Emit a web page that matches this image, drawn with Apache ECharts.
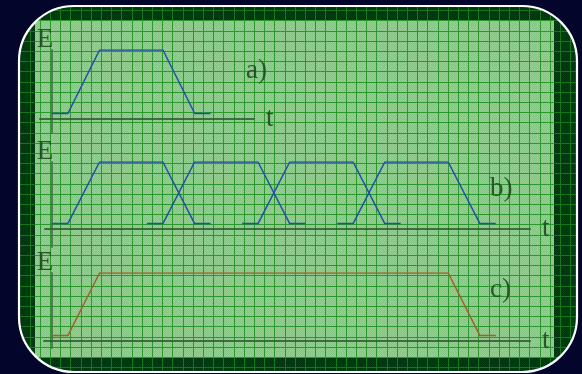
<!DOCTYPE html>
<html>
<head>
<meta charset="utf-8">
<script src="https://cdn.jsdelivr.net/npm/echarts@6/dist/echarts.min.js"></script>
<style>
  html, body { margin: 0; padding: 0; background: #03062a; }
  #chart { width: 582px; height: 374px; }
</style>
</head>
<body>
<div id="chart"></div>
<script>
// Pulse shapes: energy E against time t (t in units of half a rise time,
// E normalised to the excited level).
const pulseLevels = [0.08, 0.08, 1, 1, 0.08, 0.08];

// a) a single pulse
const timesA = [0, 1, 3, 7, 9, 10];

// b) a train of overlapping pulses
const timesB1 = [0, 1, 3, 7, 9, 10];
const timesB2 = [6, 7, 9, 13, 15, 16];
const timesB3 = [12, 13, 15, 19, 21, 22];
const timesB4 = [18, 19, 21, 25, 27, 28];

// c) the resulting long pulse
const timesC = [0, 1, 3, 25, 27, 28];

const panelLabels = ['a)', 'b)', 'c)'];
const axisNameE = 'E';
const axisNameT = 't';

function pairs(ts, es) { return ts.map((t, i) => [t, es[i]]); }

// Graph-paper tile: dithered fill plus grid lines, 5 cells per 51 px.
function paperTile(base, alt, line) {
  const c = document.createElement('canvas');
  c.width = 51; c.height = 51;
  const g = c.getContext('2d');
  const img = g.createImageData(51, 51);
  for (let y = 0; y < 51; y++) {
    for (let x = 0; x < 51; x++) {
      const col = ((x + y) % 2) ? base : alt;
      const k = (y * 51 + x) * 4;
      img.data[k] = col[0]; img.data[k + 1] = col[1]; img.data[k + 2] = col[2]; img.data[k + 3] = 255;
    }
  }
  g.putImageData(img, 0, 0);
  g.fillStyle = 'rgb(' + line.join(',') + ')';
  [9, 19, 30, 40, 50].forEach(x => g.fillRect(x, 0, 1, 51));
  [0, 10, 20, 31, 41].forEach(y => g.fillRect(0, y, 51, 1));
  return c;
}

const darkPaper = paperTile([0, 64, 18], [0, 52, 14], [22, 118, 30]);
const lightPaper = paperTile([150, 208, 146], [132, 196, 132], [42, 152, 42]);

const fontFamily = '"Liberation Serif", "DejaVu Serif", serif';
const inkColor = 'rgba(28,72,28,0.88)';
const axisColor = 'rgba(52,92,52,0.85)';
const blue = '#1f50a8';
const brown = '#a2602c';

// Panel frames in pixels, with data ranges chosen so that t = 0 and E = 0
// fall where the two axes cross.
const panels = [
  { left: 40, top: 50, width: 214, height: 83, xMin: -0.757, xMax: 12.74, yMin: -0.203, yMax: 1, eGap: -3 },
  { left: 45, top: 162, width: 485, height: 85, xMin: -0.44, xMax: 30.16, yMin: -0.269, yMax: 1, eGap: -3 },
  { left: 44, top: 273, width: 486, height: 75, xMin: -0.505, xMax: 30.16, yMin: -0.103, yMax: 1, eGap: -3 }
];

const grids = panels.map(p => ({ left: p.left, top: p.top, width: p.width, height: p.height }));

const xAxes = panels.map((p, i) => ({
  type: 'value', gridIndex: i, min: p.xMin, max: p.xMax, z: 10,
  axisLine: { onZero: true, lineStyle: { color: axisColor, width: 2 } },
  axisTick: { show: false }, axisLabel: { show: false }, splitLine: { show: false },
  name: axisNameT, nameLocation: 'end', nameGap: 12,
  nameTextStyle: { fontFamily, fontSize: 27, color: inkColor, verticalAlign: 'middle' }
}));

const yAxes = panels.map((p, i) => ({
  type: 'value', gridIndex: i, min: p.yMin, max: p.yMax, z: 10,
  axisLine: { onZero: true, lineStyle: { color: 'rgba(70,108,70,0.8)', width: 2 } },
  axisTick: { show: false }, axisLabel: { show: false }, splitLine: { show: false },
  name: axisNameE, nameLocation: 'end', nameGap: p.eGap,
  nameTextStyle: { fontFamily, fontSize: 27, color: inkColor, align: 'center', padding: [0, 0, 0, -14] }
}));

function pulse(ts, gi, color) {
  return {
    type: 'line', xAxisIndex: gi, yAxisIndex: gi, z: 12,
    data: pairs(ts, pulseLevels), symbol: 'none', animation: false,
    lineStyle: { color, width: 1.5 }
  };
}

const series = [
  pulse(timesA, 0, blue),
  pulse(timesB1, 1, blue), pulse(timesB2, 1, blue), pulse(timesB3, 1, blue), pulse(timesB4, 1, blue),
  pulse(timesC, 2, brown)
];

const labelPos = [[246, 71], [490, 189], [490, 290]];

const chart = echarts.init(document.getElementById('chart'), null, { renderer: 'canvas' });
chart.setOption({
  backgroundColor: '#03062a',
  animation: false,
  graphic: [
    { type: 'rect', z: 0, silent: true,
      shape: { x: 19, y: 6, width: 558, height: 366, r: 55 },
      style: { fill: { image: darkPaper, repeat: 'repeat' } } },
    { type: 'rect', z: 1, silent: true,
      shape: { x: 35, y: 20, width: 519, height: 338 },
      style: { fill: { image: lightPaper, repeat: 'repeat' } } },
    { type: 'rect', z: 2, silent: true,
      shape: { x: 19, y: 6, width: 558, height: 366, r: 55 },
      style: { fill: 'none', stroke: '#ffffff', lineWidth: 2.2 } }
  ].concat(panelLabels.map((s, i) => ({
    type: 'text', z: 20, silent: true, x: labelPos[i][0], y: labelPos[i][1],
    style: { text: s, font: '27px ' + fontFamily, fill: inkColor, textAlign: 'left', textVerticalAlign: 'middle' }
  }))),
  grid: grids,
  xAxis: xAxes,
  yAxis: yAxes,
  series
});
</script>
</body>
</html>
